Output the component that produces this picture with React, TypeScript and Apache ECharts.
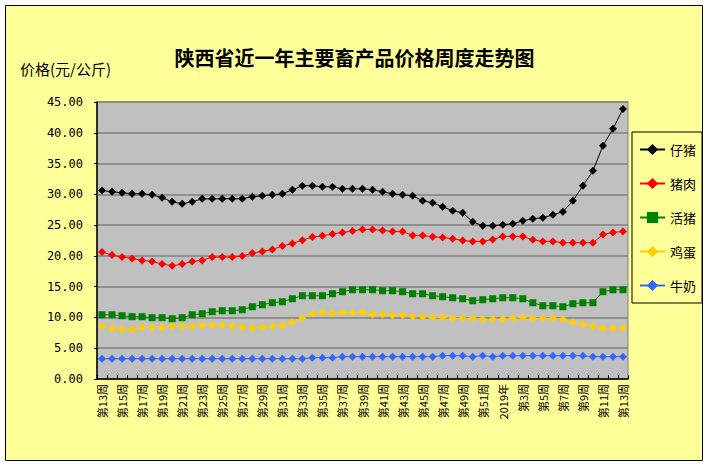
import React, { useEffect, useRef } from "react";
import * as echarts from "echarts";

const categories: string[] = [
  "第13周", "第14周", "第15周", "第16周", "第17周", "第18周", "第19周", "第20周", "第21周", "第22周",
  "第23周", "第24周", "第25周", "第26周", "第27周", "第28周", "第29周", "第30周", "第31周", "第32周",
  "第33周", "第34周", "第35周", "第36周", "第37周", "第38周", "第39周", "第40周", "第41周", "第42周",
  "第43周", "第44周", "第45周", "第46周", "第47周", "第48周", "第49周", "第50周", "第51周", "第52周",
  "2019年", "第2周", "第3周", "第4周", "第5周", "第6周", "第7周", "第8周", "第9周", "第10周",
  "第11周", "第12周", "第13周",
];

const piglet: number[] = [
  30.63, 30.41, 30.25, 30.09, 30.09, 29.92, 29.44, 28.79, 28.46, 28.79,
  29.27, 29.27, 29.27, 29.27, 29.27, 29.6, 29.76, 29.92, 30.09, 30.74,
  31.39, 31.39, 31.22, 31.22, 30.9, 30.9, 30.9, 30.74, 30.41, 30.09,
  29.92, 29.76, 28.95, 28.62, 27.98, 27.33, 27.0, 25.54, 24.89, 24.89,
  25.05, 25.22, 25.7, 26.03, 26.19, 26.68, 27.17, 28.95, 31.39, 33.82,
  37.88, 40.64, 43.88,
];

const pork: number[] = [
  20.62, 20.13, 19.81, 19.59, 19.27, 19.1, 18.67, 18.4, 18.67, 19.1,
  19.27, 19.81, 19.81, 19.81, 19.97, 20.45, 20.72, 21.05, 21.59, 22.02,
  22.56, 23.05, 23.27, 23.54, 23.81, 24.05, 24.3, 24.3, 24.13, 23.97,
  23.97, 23.32, 23.32, 23.11, 23.0, 22.78, 22.51, 22.35, 22.35, 22.67,
  23.16, 23.16, 23.16, 22.62, 22.35, 22.35, 22.13, 22.13, 22.13, 22.13,
  23.48, 23.81, 23.97,
];

const livePig: number[] = [
  10.44, 10.44, 10.28, 10.12, 10.12, 9.96, 9.96, 9.79, 9.96, 10.44,
  10.61, 10.93, 11.09, 11.09, 11.25, 11.74, 12.07, 12.39, 12.55, 13.04,
  13.53, 13.53, 13.53, 13.85, 14.18, 14.5, 14.5, 14.5, 14.34, 14.34,
  14.18, 13.85, 13.85, 13.53, 13.37, 13.2, 13.04, 12.72, 12.88, 13.04,
  13.2, 13.2, 13.04, 12.39, 11.9, 11.9, 11.74, 12.23, 12.39, 12.39,
  14.18, 14.5, 14.5,
];

const eggs: number[] = [
  8.55, 8.23, 8.06, 8.06, 8.39, 8.39, 8.39, 8.55, 8.55, 8.55,
  8.71, 8.71, 8.71, 8.55, 8.39, 8.23, 8.39, 8.55, 8.71, 9.2,
  9.85, 10.66, 10.82, 10.66, 10.82, 10.82, 10.82, 10.5, 10.5, 10.34,
  10.34, 10.17, 10.17, 10.01, 10.01, 9.85, 9.85, 9.85, 9.69, 9.69,
  9.69, 9.85, 10.01, 9.85, 9.85, 9.85, 9.69, 9.2, 8.87, 8.55,
  8.23, 8.23, 8.23,
];

const milk: number[] = [
  3.3, 3.3, 3.3, 3.3, 3.3, 3.3, 3.3, 3.3, 3.3, 3.3,
  3.3, 3.3, 3.3, 3.3, 3.3, 3.3, 3.3, 3.3, 3.3, 3.3,
  3.3, 3.46, 3.46, 3.46, 3.63, 3.63, 3.63, 3.63, 3.63, 3.63,
  3.63, 3.63, 3.63, 3.63, 3.79, 3.79, 3.79, 3.63, 3.79, 3.63,
  3.79, 3.79, 3.79, 3.79, 3.79, 3.79, 3.79, 3.79, 3.79, 3.63,
  3.63, 3.63, 3.63,
];

const seriesNames: string[] = ["仔猪", "猪肉", "活猪", "鸡蛋", "牛奶"];
const seriesColors: string[] = ["#000000", "#FF0000", "#008000", "#FFCC00", "#3366FF"];
const seriesSymbols: string[] = ["diamond", "diamond", "rect", "diamond", "diamond"];

const CJK = '"Noto Sans CJK SC", sans-serif';

export default function App() {
  const ref = useRef<HTMLDivElement>(null);
  useEffect(() => {
    if (!ref.current) return;
    const chart = echarts.init(ref.current, undefined, { renderer: "svg" });
    const allData = [piglet, pork, livePig, eggs, milk];
    chart.setOption({
      animation: false,
      backgroundColor: "#FFFFFF",
      title: {
        text: "陕西省近一年主要畜产品价格周度走势图",
        left: "center",
        top: 42,
        textStyle: { fontSize: 20, fontWeight: "bold", color: "#000", fontFamily: CJK },
      },
      graphic: [
        {
          type: "rect",
          z: -10,
          shape: { x: 5.5, y: 5.5, width: 697, height: 455 },
          style: { fill: "#FFFF99", stroke: "#000", lineWidth: 1 },
        },
        {
          type: "text",
          left: 20,
          top: 61,
          style: { text: "价格(元/公斤)", fill: "#000", font: '15px "Noto Sans CJK SC"' },
        },
      ],
      legend: {
        orient: "vertical",
        left: 632,
        top: 132,
        width: 67,
        padding: [11, 6, 11, 7],
        itemGap: 21,
        itemWidth: 25,
        itemHeight: 14,
        borderColor: "#000",
        borderWidth: 1,
        backgroundColor: "#FFFF99",
        textStyle: { fontSize: 13, color: "#000", fontFamily: CJK },
        data: seriesNames,
      },
      grid: { left: 97, top: 102, right: 81, bottom: 87, show: true, backgroundColor: "#C0C0C0", borderColor: "#808080", borderWidth: 1 },
      xAxis: {
        type: "category",
        data: categories,
        boundaryGap: true,
        axisLine: { lineStyle: { color: "#000", width: 1.5 } },
        axisTick: { show: true, inside: true, length: 4, interval: 0, lineStyle: { color: "#000" } },
        axisLabel: { interval: 1, rotate: 90, fontSize: 11, color: "#000", margin: 5, fontFamily: CJK },
        splitLine: { show: false },
      },
      yAxis: {
        type: "value",
        min: 0,
        max: 45,
        interval: 5,
        axisLine: { show: true, lineStyle: { color: "#000", width: 1.5 } },
        axisTick: { show: true, length: 3, lineStyle: { color: "#000" } },
        axisLabel: {
          fontSize: 12,
          color: "#000",
          margin: 14,
          fontFamily: '"DejaVu Sans Mono", monospace',
          formatter: (v: number) => v.toFixed(2),
        },
        splitLine: { show: true, lineStyle: { color: "#808080", width: 1.5 } },
      },
      series: seriesNames.map((name, i) => ({
        name,
        type: "line",
        data: allData[i],
        symbol: seriesSymbols[i],
        symbolSize: seriesSymbols[i] === "rect" ? 7 : 8,
        showSymbol: true,
        showAllSymbol: true,
        lineStyle: { color: seriesColors[i], width: 1 },
        itemStyle: { color: seriesColors[i] },
        z: 10 - i,
      })),
    });
    return () => chart.dispose();
  }, []);
  return (
    <div
      ref={ref}
      style={{ position: "absolute", left: 0, top: 0, width: 709, height: 466 }}
    />
  );
}
